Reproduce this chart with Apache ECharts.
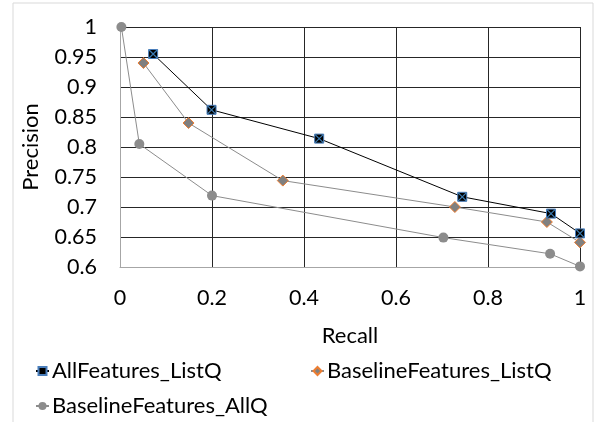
<!DOCTYPE html>
<html><head><meta charset="utf-8">
<script src="https://cdn.jsdelivr.net/npm/echarts@6/dist/echarts.min.js"></script>
<style>html,body{margin:0;padding:0;background:#fff}#c{width:597px;height:422px}</style>
</head><body><div id="c"></div>
<script>
const seriesNames = ['AllFeatures_ListQ', 'BaselineFeatures_ListQ', 'BaselineFeatures_AllQ'];
const allFeatListQ_recall = [0.072, 0.199, 0.433, 0.744, 0.937, 1.0];
const allFeatListQ_precision = [0.955, 0.862, 0.814, 0.717, 0.689, 0.656];
const baseListQ_recall = [0.051, 0.149, 0.354, 0.728, 0.928, 1.0];
const baseListQ_precision = [0.940, 0.840, 0.744, 0.700, 0.675, 0.641];
const baseAllQ_recall = [0.003, 0.042, 0.200, 0.703, 0.935, 1.0];
const baseAllQ_precision = [1.0, 0.805, 0.719, 0.649, 0.622, 0.601];

const pairs = (xs, ys) => xs.map((x, i) => [x, ys[i]]);
const FONT = 'Lato';
const TICK = 21.5, TXT = 22;
const chart = echarts.init(document.getElementById('c'), null, {renderer: 'canvas'});
const xPath = 'path://M0,0 L10,10 M10,0 L0,10';
const legendText = {fontFamily: FONT, fontSize: TXT, color: '#000', padding: [0, 0, 0, -2]};
chart.setOption({
  animation: false,
  backgroundColor: '#fff',
  textStyle: {fontFamily: FONT},
  graphic: [{type: 'rect', shape: {x: 13, y: 3, width: 580, height: 430}, style: {fill: 'none', stroke: '#d9d9d9', lineWidth: 1}, silent: true}],
  grid: {left: 120, right: 17, top: 27, bottom: 155, show: false},
  xAxis: {
    type: 'value', min: 0, max: 1, interval: 0.2,
    name: 'Recall', nameLocation: 'middle', nameGap: 58,
    nameTextStyle: {fontFamily: FONT, fontSize: TXT, color: '#000'},
    axisLine: {show: true, onZero: false, lineStyle: {color: '#a6a6a6', width: 1}},
    axisTick: {show: false},
    axisLabel: {fontFamily: FONT, fontSize: TICK, color: '#000', margin: 20},
    splitLine: {show: true, lineStyle: {color: '#262626', width: 1}}
  },
  yAxis: {
    type: 'value', min: 0.6, max: 1, interval: 0.05,
    name: 'Precision', nameLocation: 'middle', nameGap: 78, nameRotate: 90,
    nameTextStyle: {fontFamily: FONT, fontSize: TXT, color: '#000'},
    axisLine: {show: true, lineStyle: {color: '#a6a6a6', width: 1}},
    axisTick: {show: false},
    axisLabel: {fontFamily: FONT, fontSize: TICK, color: '#000', margin: 23,
      formatter: v => String(Math.round(v * 100) / 100)},
    splitLine: {show: true, lineStyle: {color: '#262626', width: 1}}
  },
  legend: [
    {data: [seriesNames[0]], left: 30, top: 355, itemWidth: 13, itemHeight: 10, textStyle: legendText},
    {data: [seriesNames[1]], left: 305, top: 355, itemWidth: 13, itemHeight: 10, textStyle: legendText},
    {data: [seriesNames[2]], left: 30, top: 390, itemWidth: 13, itemHeight: 10, textStyle: legendText}
  ],
  series: [
    {name: seriesNames[2], type: 'line', data: pairs(baseAllQ_recall, baseAllQ_precision),
      symbol: 'circle', symbolSize: 10, lineStyle: {color: '#8c8c8c', width: 1},
      itemStyle: {color: '#8c8c8c'}, z: 3},
    {name: seriesNames[1], type: 'line', data: pairs(baseListQ_recall, baseListQ_precision),
      symbol: 'diamond', symbolSize: 11, lineStyle: {color: '#8c8c8c', width: 1},
      itemStyle: {color: '#808080', borderColor: '#ED7D31', borderWidth: 1}, z: 4},
    {name: seriesNames[0], type: 'line', data: pairs(allFeatListQ_recall, allFeatListQ_precision),
      symbol: 'rect', symbolSize: 9, lineStyle: {color: '#000', width: 1},
      itemStyle: {color: '#000', borderColor: '#4A7EBB', borderWidth: 1}, z: 5},
    {name: seriesNames[0] + '_x', type: 'scatter', data: pairs(allFeatListQ_recall, allFeatListQ_precision),
      symbol: xPath, symbolSize: 8, itemStyle: {color: 'none', borderColor: '#4A9BE0', borderWidth: 1.2}, z: 6, silent: true}
  ]
});
</script></body></html>
